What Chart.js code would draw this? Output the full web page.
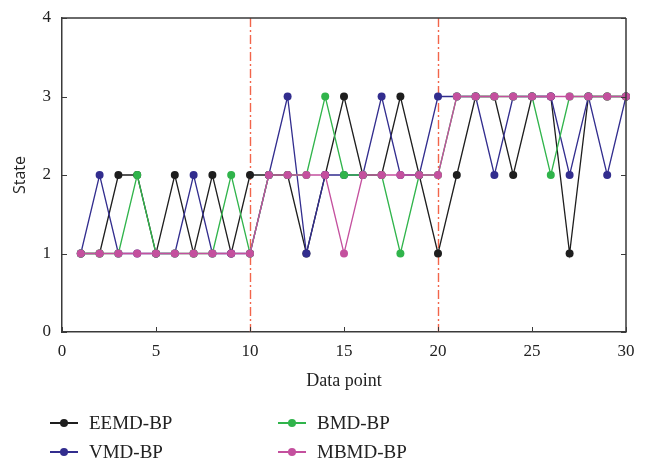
<!DOCTYPE html>
<html>
<head>
<meta charset="utf-8">
<script src="https://cdn.jsdelivr.net/npm/chart.js@4/dist/chart.umd.min.js"></script>
<style>
  html, body { margin: 0; padding: 0; background: #fff; }
  #wrap { position: relative; width: 648px; height: 460px; }
  #c { position: absolute; left: 0; top: 0; }
  .leg { position: absolute; height: 24px; display: flex; align-items: center;
         font-family: "Liberation Serif", "DejaVu Serif", serif; font-size: 19px; color: #222; }
  .sym { position: relative; width: 28px; height: 24px; margin-right: 11px; }
  .sym .ln { position: absolute; left: 0; right: 0; top: 11px; height: 2px; }
  .sym .dt { position: absolute; left: 10px; top: 8px; width: 8px; height: 8px; border-radius: 50%; }
</style>
</head>
<body>
<div id="wrap">
  <canvas id="c" width="648" height="460"></canvas>
</div>
<script>
// ---- data ----
const dataPoints = [1,2,3,4,5,6,7,8,9,10,11,12,13,14,15,16,17,18,19,20,21,22,23,24,25,26,27,28,29,30];
const eemdBP = [1,1,2,2,1,2,1,2,1,2, 2,2,1,2,3,2,2,3,2,1, 2,3,3,2,3,3,1,3,3,3];
const vmdBP  = [1,2,1,1,1,1,2,1,1,1, 2,3,1,2,2,2,3,2,2,3, 3,3,2,3,3,3,2,3,2,3];
const bmdBP  = [1,1,1,2,1,1,1,1,2,1, 2,2,2,3,2,2,2,1,2,2, 3,3,3,3,3,2,3,3,3,3];
const mbmdBP = [1,1,1,1,1,1,1,1,1,1, 2,2,2,2,1,2,2,2,2,2, 3,3,3,3,3,3,3,3,3,3];
const seriesNames = ["EEMD-BP", "VMD-BP", "BMD-BP", "MBMD-BP"];
const dividerPoints = [10, 20];
const xTickValues = [0, 5, 10, 15, 20, 25, 30];
const yTickValues = [0, 1, 2, 3, 4];

const colors = {
  "EEMD-BP": "#1e1e1e",
  "VMD-BP": "#322d8e",
  "BMD-BP": "#30b44b",
  "MBMD-BP": "#c4509e"
};
const seriesValues = {
  "EEMD-BP": eemdBP, "VMD-BP": vmdBP, "BMD-BP": bmdBP, "MBMD-BP": mbmdBP
};

function toXY(vals) { return dataPoints.map((x, i) => ({ x: x, y: vals[i] })); }

// drawing order: first dataset is drawn on top
const drawOrder = ["MBMD-BP", "BMD-BP", "VMD-BP", "EEMD-BP"];
const datasets = drawOrder.map(name => ({
  label: name,
  data: toXY(seriesValues[name]),
  borderColor: colors[name],
  backgroundColor: colors[name],
  pointBackgroundColor: colors[name],
  pointBorderColor: colors[name],
  borderWidth: 1.3,
  pointRadius: 4,
  pointBorderWidth: 0,
  tension: 0,
  clip: false
}));

const AXIS = "#3a3a3a";
const frameAndMarks = {
  id: "frameAndMarks",
  beforeDatasetsDraw(chart) {
    const { ctx, chartArea: ca, scales: { x, y } } = chart;
    ctx.save();
    ctx.strokeStyle = "#f2654a";
    ctx.lineWidth = 1.4;
    ctx.setLineDash([9, 3, 2, 3]);
    dividerPoints.forEach(v => {
      const px = Math.round(x.getPixelForValue(v)) + 0.5;
      ctx.beginPath(); ctx.moveTo(px, ca.top); ctx.lineTo(px, ca.bottom); ctx.stroke();
    });
    ctx.restore();
  },
  afterDraw(chart) {
    const { ctx, chartArea: ca, scales: { x, y } } = chart;
    ctx.save();
    ctx.strokeStyle = AXIS;
    ctx.lineWidth = 1.5;
    ctx.beginPath();
    ctx.moveTo(ca.left, ca.top); ctx.lineTo(ca.right, ca.top);
    ctx.moveTo(ca.right, ca.top); ctx.lineTo(ca.right, ca.bottom);
    ctx.stroke();
    ctx.lineWidth = 1;
    ctx.beginPath();
    yTickValues.forEach(v => {
      const py = Math.round(y.getPixelForValue(v)) + 0.5;
      ctx.moveTo(ca.left, py); ctx.lineTo(ca.left + 5, py);
      ctx.moveTo(ca.right, py); ctx.lineTo(ca.right - 5, py);
    });
    xTickValues.forEach(v => {
      const px = Math.round(x.getPixelForValue(v)) + 0.5;
      ctx.moveTo(px, ca.bottom); ctx.lineTo(px, ca.bottom - 5);
    });
    ctx.stroke();
    ctx.restore();
  }
};

const serif = "'Liberation Serif', 'DejaVu Serif', serif";
new Chart(document.getElementById("c"), {
  type: "line",
  data: { datasets: datasets },
  options: {
    responsive: false,
    animation: false,
    devicePixelRatio: 1,
    layout: { padding: { left: 0, top: 18, right: 22, bottom: 68 } },
    plugins: { legend: { display: false }, tooltip: { enabled: false } },
    scales: {
      x: {
        type: "linear", min: 0, max: 30,
        afterFit: s => { s.height = 60; s.paddingLeft = 0; s.paddingRight = 0; },
        afterBuildTicks: s => { s.ticks = xTickValues.map(v => ({ value: v })); },
        grid: { display: false, drawTicks: false },
        border: { display: true, color: AXIS, width: 1.5 },
        ticks: { color: "#222", padding: 9, font: { family: serif, size: 17 } },
        title: { display: true, text: "Data point", color: "#222", padding: { top: 0, bottom: 0 },
                 font: { family: serif, size: 18 } }
      },
      y: {
        type: "linear", min: 0, max: 4,
        afterFit: s => { s.width = 62; s.paddingTop = 0; s.paddingBottom = 0; },
        afterBuildTicks: s => { s.ticks = yTickValues.map(v => ({ value: v })); },
        grid: { display: false, drawTicks: false },
        border: { display: true, color: AXIS, width: 1.5 },
        ticks: { color: "#222", padding: 11, font: { family: serif, size: 17 } },
        title: { display: true, text: "State", color: "#222", padding: { top: 11, bottom: 0 },
                 font: { family: "'Open Sans', 'Noto Sans', sans-serif", size: 16 } }
      }
    }
  },
  plugins: [frameAndMarks]
});

// legend (two columns): EEMD / VMD in the first, BMD / MBMD in the second
const legendPos = {
  "EEMD-BP": { left: 50, top: 411 },
  "VMD-BP":  { left: 50, top: 440 },
  "BMD-BP":  { left: 278, top: 411 },
  "MBMD-BP": { left: 278, top: 440 }
};
const wrap = document.getElementById("wrap");
seriesNames.forEach(name => {
  const d = document.createElement("div");
  d.className = "leg";
  d.style.left = legendPos[name].left + "px";
  d.style.top = legendPos[name].top + "px";
  d.innerHTML = '<div class="sym"><div class="ln" style="background:' + colors[name] +
    '"></div><div class="dt" style="background:' + colors[name] + '"></div></div><span>' + name + '</span>';
  wrap.appendChild(d);
});
</script>
</body>
</html>
